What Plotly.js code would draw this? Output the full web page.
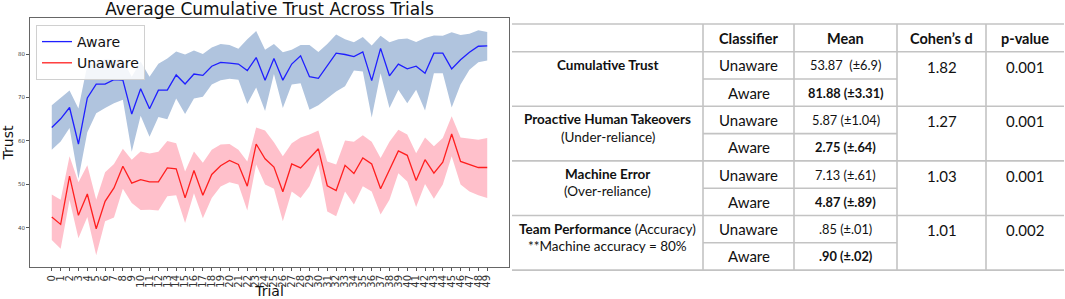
<!DOCTYPE html>
<html>
<head>
<meta charset="utf-8">
<script src="https://cdn.plot.ly/plotly-3.0.1.min.js"></script>
<style>html,body{margin:0;padding:0;background:#fff;}#chart{width:1065px;height:299px;}</style>
</head>
<body>
<div id="chart"></div>
<script>
// ---------- chart data ----------
const trials = [0,1,2,3,4,5,6,7,8,9,10,11,12,13,14,15,16,17,18,19,20,21,22,23,24,25,26,27,28,29,30,31,32,33,34,35,36,37,38,39,40,41,42,43,44,45,46,47,48,49];

const awareMean = [63.1,65.1,67.7,59.3,69.9,73.1,73.1,74.1,74.0,66.2,72.0,67.4,71.7,71.7,75.2,73.1,75.4,75.1,77.2,78.1,77.9,77.7,76.2,79.2,74.0,79.0,74.0,77.7,79.6,74.8,74.4,77.4,80.2,79.9,79.4,80.5,73.9,81.3,75.0,77.7,76.6,77.2,75.6,80.2,80.2,76.6,78.7,80.4,81.8,81.9];
const awareUpper = [68.2,69.9,71.6,67.5,77.5,78.0,78.8,78.7,78.7,74.8,78.3,74.8,77.8,79.0,80.6,79.9,80.8,80.0,81.5,82.3,82.1,81.2,83.4,85.3,81.0,82.3,80.4,81.0,82.1,82.1,80.5,82.3,84.5,83.4,82.7,83.9,82.0,84.2,82.7,83.4,83.6,82.8,83.7,84.3,84.2,85.0,84.4,84.7,85.5,85.1];
const awareLower = [58.0,59.9,63.0,51.3,62.0,66.4,67.6,68.7,69.5,57.5,65.8,61.0,65.5,65.0,69.8,66.2,69.8,70.2,73.0,74.0,74.3,74.1,68.5,72.3,66.9,75.4,67.6,73.0,73.3,67.2,68.2,69.9,71.4,72.6,76.2,76.0,65.4,75.6,67.6,71.8,68.7,71.8,67.0,75.6,75.6,67.7,73.0,76.4,78.1,78.5];

const unawareMean = [42.5,40.8,51.9,42.9,47.8,39.8,46.1,49.2,54.2,50.3,51.1,50.6,50.6,53.8,53.6,46.9,53.2,47.5,52.3,54.3,55.5,54.6,49.6,59.3,55.9,54.0,48.3,54.7,53.8,55.9,58.2,49.7,48.6,54.4,52.5,56.1,54.7,49.0,53.2,57.7,56.7,50.9,55.7,52.6,55.1,61.6,55.3,54.6,53.9,53.9];
const unawareUpper = [47.7,46.5,56.5,50.5,54.4,46.5,52.8,54.7,58.2,55.7,57.6,57.1,57.5,60.0,59.5,53.0,57.6,55.0,58.0,59.2,59.3,58.0,55.3,63.1,62.4,59.7,56.5,59.5,60.8,61.5,62.4,55.3,54.6,60.1,59.8,61.3,59.8,56.1,59.8,62.6,61.5,57.2,60.8,58.8,60.7,65.7,60.8,60.5,60.3,60.7];
const unawareLower = [37.2,35.2,46.4,37.6,42.5,33.7,41.5,42.4,49.0,45.7,44.1,44.2,44.0,47.3,47.5,41.1,48.0,42.2,46.9,49.5,50.5,50.0,44.0,54.6,50.0,49.0,41.5,48.4,46.9,49.6,54.6,43.8,42.7,48.4,45.4,49.6,48.4,43.1,46.5,52.6,50.7,44.8,50.1,46.7,50.0,56.5,50.0,48.4,47.5,46.9];

const seriesNames = ["Aware","Unaware"];
const yTicks = [40,50,60,70,80];
const chartTitle = "Average Cumulative Trust Across Trials";
const xTitle = "Trial";
const yTitle = "Trust";

// ---------- table data ----------
const tableHeaders = ["Classifier","Mean","Cohen’s d","p-value"];
const measureTitles = ["Cumulative Trust","Proactive Human Takeovers","Machine Error","Team Performance"];
const measureTitleSuffix = ["","","", " (Accuracy)"];
const measureSubtitles = ["","(Under-reliance)","(Over-reliance)","**Machine accuracy = 80%"];
const classifiers = ["Unaware","Aware"];
const meanUnaware = ["53.87  (±6.9)","5.87 (±1.04)","7.13 (±.61)",".85 (±.01)"];
const meanAware = ["81.88 (±3.31)","2.75 (±.64)","4.87 (±.89)",".90 (±.02)"];
const cohensD = ["1.82","1.27","1.03","1.01"];
const pValues = ["0.001","0.001","0.001","0.002"];

// ---------- layout helpers ----------
const W = 1065, H = 299;
const px = x => x / W;
const py = y => 1 - y / H;

const BLUE_FILL = "rgb(176,196,222)";
const PINK_FILL = "rgb(255,192,203)";

const traces = [
  {x: trials, y: awareUpper, mode: "lines", line: {width: 0, color: BLUE_FILL}, showlegend: false, hoverinfo: "skip"},
  {x: trials, y: awareLower, mode: "lines", line: {width: 0, color: BLUE_FILL}, fill: "tonexty", fillcolor: BLUE_FILL, showlegend: false, hoverinfo: "skip"},
  {x: trials, y: unawareUpper, mode: "lines", line: {width: 0, color: PINK_FILL}, showlegend: false, hoverinfo: "skip"},
  {x: trials, y: unawareLower, mode: "lines", line: {width: 0, color: PINK_FILL}, fill: "tonexty", fillcolor: PINK_FILL, showlegend: false, hoverinfo: "skip"},
  {x: trials, y: awareMean, mode: "lines", name: seriesNames[0], line: {width: 1.3, color: "#1f1fff"}},
  {x: trials, y: unawareMean, mode: "lines", name: seriesNames[1], line: {width: 1.3, color: "#ff1f1f"}}
];

// table geometry (pixels)
const colX = [512, 703, 794, 897, 986, 1064];
const tableTop = 24, headerBottom = 51.7, rowH = 27.3;
const rowY = r => headerBottom + rowH * r;
const LINE = {color: "#c3c3c3", width: 1.6};

const shapes = [];
[tableTop, headerBottom, rowY(2), rowY(4), rowY(6), rowY(8)].forEach(y => {
  shapes.push({type: "line", xref: "paper", yref: "paper", x0: px(colX[0]), x1: px(colX[5]), y0: py(y), y1: py(y), line: LINE});
});
[1, 3, 5, 7].forEach(r => {
  shapes.push({type: "line", xref: "paper", yref: "paper", x0: px(colX[1]), x1: px(colX[3]), y0: py(rowY(r)), y1: py(rowY(r)), line: LINE});
});
[1, 2, 3, 4].forEach(c => {
  shapes.push({type: "line", xref: "paper", yref: "paper", x0: px(colX[c]), x1: px(colX[c]), y0: py(tableTop), y1: py(rowY(8)), line: LINE});
});

const TF = "Lato, 'Liberation Sans', sans-serif";
const ann = (x, y, text, size) => ({
  xref: "paper", yref: "paper", x: px(x), y: py(y), text: text, showarrow: false,
  xanchor: "center", yanchor: "middle", font: {family: TF, size: size, color: "#111"}
});
const colC = c => (colX[c] + colX[c + 1]) / 2;

const annotations = [];
tableHeaders.forEach((h, i) => annotations.push(ann(colC(i + 1), (tableTop + headerBottom) / 2 + 0.5, "<b>" + h + "</b>", 14.5)));
measureTitles.forEach((m, g) => {
  const r0 = 2 * g;
  const c1 = rowY(r0) + rowH / 2;
  const c2 = rowY(r0 + 1) + rowH / 2;
  annotations.push(ann(colC(0), c1 - 0.5, "<b>" + m + "</b>" + measureTitleSuffix[g], 13.5));
  if (measureSubtitles[g]) annotations.push(ann(colC(0), c1 + 16.8, measureSubtitles[g], 13.5));
  annotations.push(ann(colC(1), c1, classifiers[0], 15));
  annotations.push(ann(colC(1), c2, classifiers[1], 15));
  annotations.push(ann(colC(2), c1, meanUnaware[g], 12.8));
  annotations.push(ann(colC(2), c2, "<b>" + meanAware[g] + "</b>", 12.8));
  annotations.push(ann(colC(3), c1 + 1.3, cohensD[g], 15));
  annotations.push(ann(colC(4), c1 + 1.3, pValues[g], 15));
});

const plotL = 30, plotR = 509, plotT = 18, plotB = 267;

const layout = {
  width: W, height: H,
  margin: {l: 0, r: 0, t: 0, b: 0},
  paper_bgcolor: "#fff", plot_bgcolor: "#fff",
  font: {family: "'DejaVu Sans', sans-serif", color: "#222"},
  title: {text: chartTitle, x: px((plotL + plotR) / 2), xref: "paper", xanchor: "center", y: 1 - 9 / H, yref: "container", yanchor: "middle", font: {size: 17, color: "#111", family: "'DejaVu Sans', sans-serif"}},
  showlegend: true,
  legend: {x: px(36), y: py(25), xanchor: "left", yanchor: "top", traceorder: "normal", bgcolor: "rgba(255,255,255,0.85)", bordercolor: "#d0d0d0", borderwidth: 1, font: {size: 14, color: "#111"}, tracegroupgap: 0},
  xaxis: {
    domain: [px(plotL), px(plotR)], range: [-2.45, 51.45], tickmode: "array", tickvals: trials, ticktext: trials.map(String),
    tickangle: -90, tickfont: {size: 10, color: "#333"}, ticks: "outside", ticklen: 3, tickcolor: "#555",
    showgrid: false, zeroline: false, showline: true, linecolor: "#666", linewidth: 1, mirror: true,
    title: {text: xTitle, font: {size: 14, color: "#111"}, standoff: 2}, automargin: false
  },
  yaxis: {
    domain: [1 - plotB / H, 1 - plotT / H], range: [31.0, 88.3], tickmode: "array", tickvals: yTicks,
    tickfont: {size: 5.5, color: "#444"}, ticks: "outside", ticklen: 3, tickcolor: "#555",
    showgrid: false, zeroline: false, showline: true, linecolor: "#666", linewidth: 1, mirror: true,
    title: {text: yTitle, font: {size: 14, color: "#111"}, standoff: 2}, automargin: false
  },
  shapes: shapes,
  annotations: annotations
};

Plotly.newPlot("chart", traces, layout, {displayModeBar: false, staticPlot: true});
</script>
</body>
</html>
